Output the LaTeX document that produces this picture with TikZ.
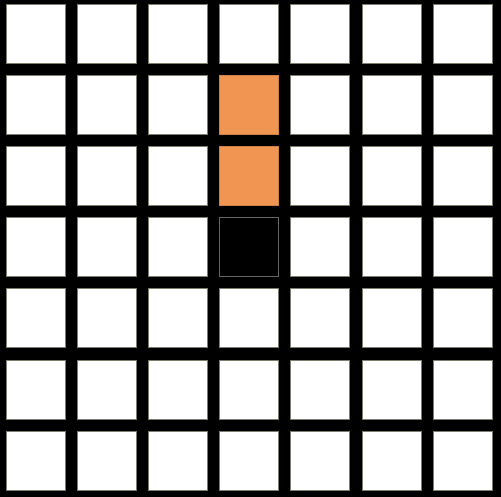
\documentclass[tikz,border=0pt]{standalone}
\usepackage{xcolor}
\usepackage{tikz}
\definecolor{cellorange}{RGB}{240,150,82}
\definecolor{celledge}{RGB}{125,125,110}
\tikzset{cell/.style={draw=celledge, line width=0.7pt, fill=white, minimum width=59pt, minimum height=59pt, inner sep=0pt, outer sep=0pt}}

\begin{document}
\begin{tikzpicture}[x=1pt, y=-1pt]
\fill[black] (0,0) rectangle (501,497);
\foreach \r in {0,...,6}{
  \foreach \c in {0,...,6}{
    \node[cell] (c\r\c) at ({35.5+71.2*\c},{33.5+71.2*\r}) {};
  }
}
\node[cell, fill=cellorange, draw=cellorange!85!black] (top) at (c13) {};
\node[cell, fill=cellorange, draw=cellorange!85!black] (mid) at (c23) {};
\node[cell, fill=black, draw=black!60, line width=1pt] (head) at (c33) {};
\end{tikzpicture}
\end{document}
